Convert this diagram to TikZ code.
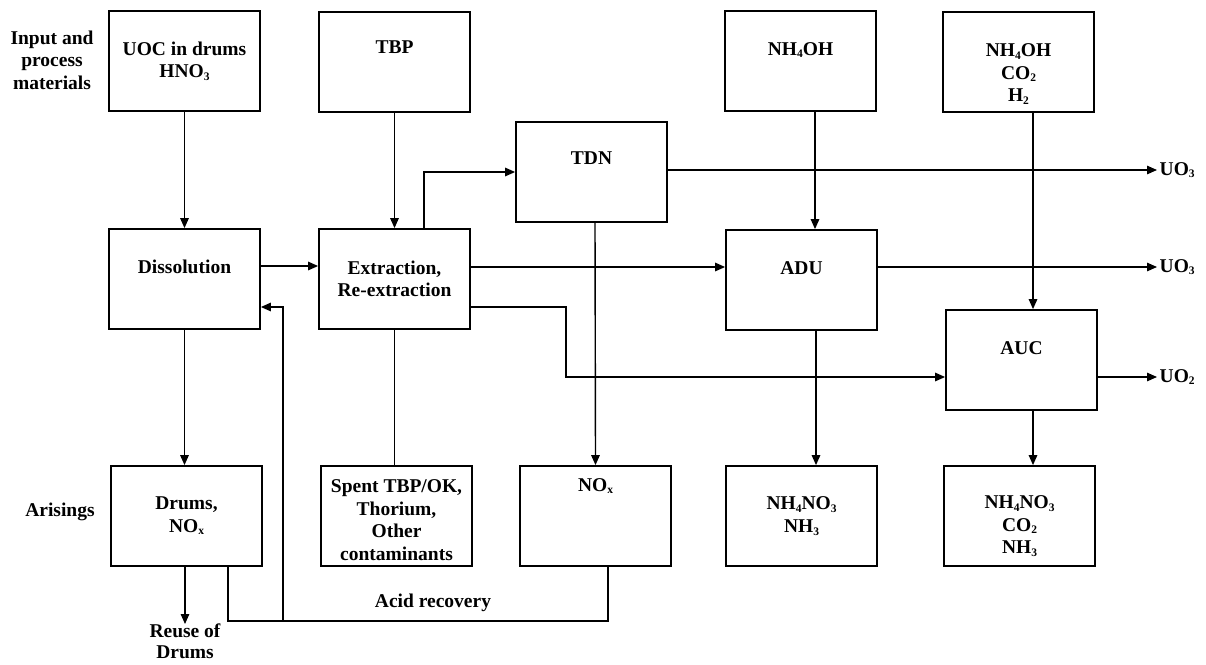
\documentclass[tikz,border=0pt]{standalone}
\usepackage{fontspec}
\setmainfont{Liberation Serif}
\usetikzlibrary{arrows.meta}
% small lowered subscript for chemical formulae
\newcommand\sbs[1]{\raisebox{-0.3ex}{\fontsize{11.5}{12}\selectfont #1}}
\begin{document}
\begin{tikzpicture}[x=1pt,y=-1pt,
  every node/.style={font=\fontsize{19.5}{22.5}\selectfont\bfseries, align=center, inner sep=0pt},
  proc/.style={draw, line width=1.8pt, minimum width=151pt, minimum height=100pt},
  flow/.style={line width=1.4pt},
  arr/.style={flow, -{Triangle[length=10pt,width=8.5pt]}},
  outlbl/.style={anchor=west, inner xsep=2.5pt}]
\useasboundingbox (0,0) rectangle (1206,664);

% row labels
\node (inp) at (52,60) {Input and\\process\\materials};
\node (ars) at (60,512) {Arisings};

% input materials
\node[proc] (uoc) at (184.5,61) {UOC in drums\\HNO\sbs{3}};
\node[proc, label={[yshift=15pt]center:TBP}] (tbp) at (394.5,62) {};
\node[proc, label={[yshift=11pt]center:NH\sbs{4}OH}] (nhoh) at (800.5,61) {};
\node[proc, label={[yshift=-12pt]center:{NH\sbs{4}OH\\CO\sbs{2}\\H\sbs{2}}}] (nhco) at (1018.5,62) {};

% process steps
\node[proc, label={[yshift=14pt]center:TDN}] (tdn) at (591.5,172) {};
\node[proc, label={[yshift=12pt]center:Dissolution}] (dis) at (184.5,279) {};
\node[proc] (ext) at (394.5,279) {Extraction,\\Re-extraction};
\node[proc, label={[yshift=12pt]center:ADU}] (adu) at (801.5,280) {};
\node[proc, label={[yshift=12pt]center:AUC}] (auc) at (1021.5,360) {};

% arisings
\node[proc] (drm) at (186.5,516) {Drums,\\NO\sbs{x}};
\node[proc, label={[yshift=-4pt]center:{Spent TBP/OK,\\Thorium,\\Other\\contaminants}}] (spent) at (396.5,516) {};
\node[proc, label={[yshift=30pt]center:NO\sbs{x}}] (nox) at (595.5,516) {};
\node[proc] (ann) at (801.5,516) {NH\sbs{4}NO\sbs{3}\\NH\sbs{3}};
\node[proc, label={[yshift=-10pt]center:{NH\sbs{4}NO\sbs{3}\\CO\sbs{2}\\NH\sbs{3}}}] (aco) at (1019.5,516) {};

% products
\node[outlbl] (uo3a) at (1157,170) {UO\sbs{3}};
\node[outlbl] (uo3b) at (1157,267) {UO\sbs{3}};
\node[outlbl] (uo2) at (1157,377) {UO\sbs{2}};
\node[anchor=north, font=\fontsize{19.5}{21}\selectfont\bfseries] (reuse) at (185,624) {Reuse of\\Drums};
\node (acid) at (433,603) {Acid recovery};

% feeds
\draw[arr] (uoc.south) -- (uoc.south |- dis.north);
\draw[arr] (tbp.south) -- (ext.north);
\draw[arr] ([xshift=14.5pt]nhoh.south) -- ([xshift=13.5pt]adu.north);
\draw[arr] ([xshift=14.5pt]nhco.south) -- ([xshift=11.5pt]auc.north);

% main process flow
\draw[arr] ([yshift=13pt]dis.east) -- ([yshift=13pt]ext.west);
\draw[arr] ([xshift=29.5pt]ext.north) |- (tdn.west);
\draw[arr] ([yshift=12pt]ext.east) -- ([yshift=13pt]adu.west);
\draw[arr] ([yshift=-28pt]ext.east) -- ++(95,0) |- ([yshift=-17pt]auc.west);
\draw[arr] (tdn.east |- uo3a.west) -- (uo3a.west);
\draw[arr] (adu.east |- uo3b.west) -- (uo3b.west);
\draw[arr] (auc.east |- uo2.west) -- (uo2.west);

% arisings
\draw[arr] (dis.south) -- (dis.south |- drm.north);
\draw[flow] (ext.south) -- (ext.south |- spent.north);
\draw[arr] ([xshift=3.5pt]tdn.south) -- (nox.north);
\draw[arr] ([xshift=14.5pt]adu.south) -- ([xshift=14.5pt]ann.north);
\draw[arr] ([xshift=11.5pt]auc.south) -- ([xshift=13.5pt]aco.north);
\draw[arr] (drm.south -| reuse.north) -- (reuse.north);

% acid recovery loop
\coordinate (jn) at (283,621);
\draw[flow] ([xshift=12.5pt]nox.south) |- (jn) -| ([xshift=41.5pt]drm.south);
\draw[arr] (jn) |- ([yshift=-28pt]dis.east);
\end{tikzpicture}
\end{document}
